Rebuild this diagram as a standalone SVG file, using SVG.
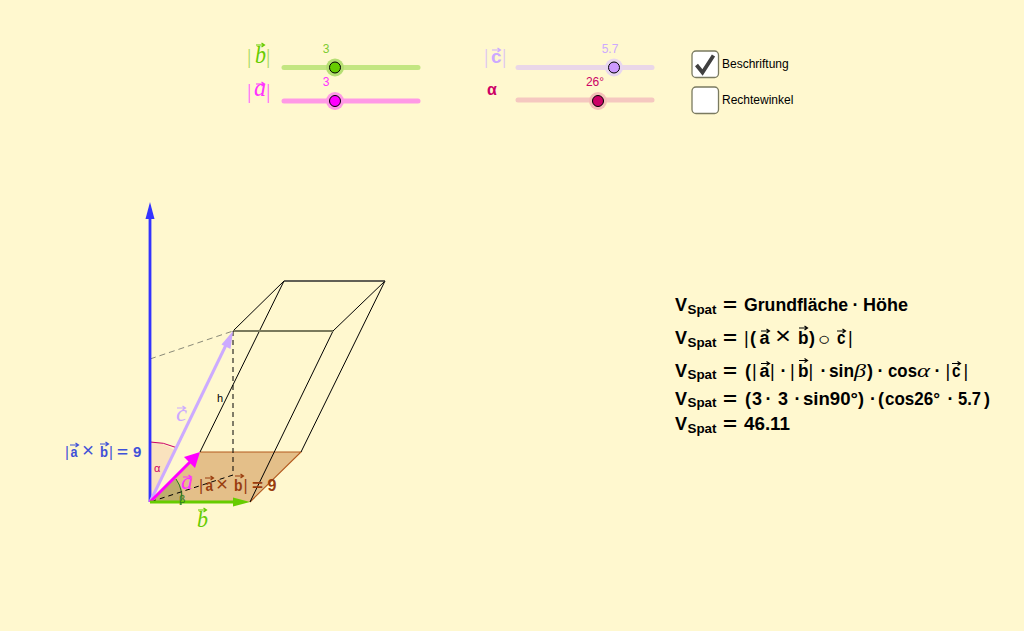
<svg xmlns="http://www.w3.org/2000/svg" xmlns:xlink="http://www.w3.org/1999/xlink" width="1024" height="631" viewBox="0 0 1024 631">
<style>
.s{font-family:"Liberation Sans",Arial,sans-serif}
.m{font-family:"Liberation Sans",Arial,sans-serif;font-weight:bold;font-size:18px;fill:#000}
.sub{font-size:12.5px}
.ser{font-family:"Liberation Serif","Times New Roman",serif;font-style:italic;font-weight:normal}
.bar{font-family:"Liberation Serif",serif;font-size:22px}
.ln{fill:none;stroke:#000;stroke-width:1}
.d{stroke-dasharray:5 4}
.track{stroke-width:5;stroke-linecap:round;fill:none}
.k{stroke:#000;stroke-width:1}
.cb{fill:#fff;stroke:#7a7a60;stroke-width:1.3}
.lbl{font-size:12px;fill:#000}
.val{font-size:12px}
.bl{font-size:15px;font-weight:bold;fill:#3f51d8}
.br{font-size:16px;font-weight:bold;fill:#993d0f}
.t{font-weight:normal}
</style>
<defs>
<path id="ar" d="M0 0H8M5.500 -2L8.500 0L5.500 2" fill="none" stroke="currentColor" stroke-width="1.200"/>
<g id="vs"><text class="m" x="0" y="0">V</text><text class="m sub" x="12.500" y="2.500" textLength="29" lengthAdjust="spacingAndGlyphs">Spat</text><text class="m" x="48" y="0" textLength="14" lengthAdjust="spacingAndGlyphs">=</text></g>
</defs>
<rect width="1024" height="631" fill="#fff8cf"/>

<g id="slider-b">
<path class="track" d="M284 67.500H418" stroke="#c3e681"/>
<circle cx="335" cy="67.500" r="9" fill="#b5de72"/>
<circle cx="335" cy="67.500" r="5.500" fill="#66cc00" class="k"/>
<text class="s val" x="326" y="53" text-anchor="middle" fill="#80cc33">3</text>
<text class="bar" x="247" y="63" fill="#a6d960">|</text>
<text class="ser" x="255" y="63" style="font-size:25px" fill="#66cc00" textLength="11" lengthAdjust="spacingAndGlyphs">b</text>
<use xlink:href="#ar" x="256" y="45" color="#66cc00"/>
<text class="bar" x="266" y="63" fill="#a6d960">|</text>
</g>

<g id="slider-a">
<path class="track" d="M284 101H418" stroke="#ff99e6"/>
<circle cx="335" cy="101" r="9" fill="#ff99e6"/>
<circle cx="335" cy="101" r="5.500" fill="#ff00ff" class="k"/>
<text class="s val" x="326" y="86" text-anchor="middle" fill="#ff33ff">3</text>
<text class="bar" x="247" y="98" fill="#ff66ff">|</text>
<text class="ser" x="254" y="96" style="font-size:25px" fill="#ff33ff" textLength="12" lengthAdjust="spacingAndGlyphs">a</text>
<use xlink:href="#ar" x="256" y="84" color="#ff33ff"/>
<text class="bar" x="266" y="98" fill="#ff66ff">|</text>
</g>

<g id="slider-c">
<path class="track" d="M518 67.500H652" stroke="#ead7e8"/>
<circle cx="614" cy="67.500" r="9" fill="#e8d6ef"/>
<circle cx="614" cy="67.500" r="5.500" fill="#cc99ff" class="k"/>
<text class="s val" x="610" y="53" text-anchor="middle" fill="#ccaaff">5.7</text>
<text class="bar" x="484" y="63" fill="#dcc4f5">|</text>
<text class="s" x="491" y="63" style="font-size:19px;font-weight:bold" fill="#ccaaff">c</text>
<use xlink:href="#ar" x="492" y="50" color="#ccaaff"/>
<text class="bar" x="502" y="63" fill="#dcc4f5">|</text>
</g>

<g id="slider-alpha">
<path class="track" d="M518 100H652" stroke="#f5c8c0"/>
<circle cx="598" cy="101" r="9" fill="#f5c0b8"/>
<circle cx="598" cy="101" r="5.500" fill="#cc0066" class="k"/>
<text class="s val" x="595" y="86" text-anchor="middle" fill="#cc0066">26°</text>
<text class="s" x="487" y="95" style="font-size:16px;font-weight:bold" fill="#cc0066">α</text>
</g>

<g id="check-beschriftung">
<rect class="cb" x="692" y="51" width="26.500" height="26.500" rx="4"/>
<path d="M696.500 65L702.500 72.500L713.500 55.500" fill="none" stroke="#404040" stroke-width="3.800"/>
<text class="s lbl" x="722" y="68">Beschriftung</text>
</g>
<g id="check-rechtewinkel">
<rect class="cb" x="692" y="87" width="26.500" height="26.500" rx="4"/>
<text class="s lbl" x="722" y="104">Rechtewinkel</text>
</g>

<g id="connectors">
<path d="M150 502L200 452H301L250 502Z" fill="#d2995a" fill-opacity=".6"/>
<path d="M150 441V502L176 451A60 60 0 0 0 150 441Z" fill="#f5c8a8" fill-opacity=".45"/>
<path d="M150 502L174.500 477.500A34 34 0 0 1 184 502Z" fill="#7a8a3c" fill-opacity=".35"/>
<path d="M150 442A61 61 0 0 1 176 447.500" fill="none" stroke="#cc0066" stroke-width="1"/>
<path d="M176 479A33 33 0 0 1 181 505" fill="none" stroke="#2e7d20" stroke-width="1"/>
<path d="M200 452H301L250 502" fill="none" stroke="#b35a1f" stroke-width="1.100"/>
<path class="ln" d="M200 452L284 281H385L301 452M250 502L333 331"/>
<path class="ln" d="M233 331L284 281M333 331L385 281"/>
<path d="M284 281H385" fill="none" stroke="#444" stroke-width="1.200"/>
<path d="M233 331H333" fill="none" stroke="#7a7a5c" stroke-width="2"/>
<path d="M150 359L233 331" fill="none" stroke="#8a8a78" stroke-width="1" stroke-dasharray="6 4"/>
<path class="ln d" d="M233 331V475L150 502"/>
<path d="M150 502V214" fill="none" stroke="#3333ff" stroke-width="2.800"/>
<path d="M150 202L154.500 219H145.500Z" fill="#3333ff"/>
<path d="M150 502L226.500 344" fill="none" stroke="#ccaaff" stroke-width="3"/>
<path d="M233 331L230.500 349L221.500 344.500Z" fill="#ccaaff"/>
<path d="M150 502L190 462" fill="none" stroke="#ff00ff" stroke-width="3"/>
<path d="M200 452L195 468L184 457Z" fill="#ff00ff"/>
<path d="M150 502H236" fill="none" stroke="#66cc00" stroke-width="3"/>
<path d="M250 502L233 506.500V497.500Z" fill="#66cc00"/>
</g>

<g id="labels">
<text class="ser" x="176" y="421" style="font-size:24px" fill="#ccaaff" textLength="11" lengthAdjust="spacingAndGlyphs">c</text>
<use xlink:href="#ar" x="177" y="408" color="#ccaaff"/>
<text class="s" x="217" y="402" style="font-size:11px">h</text>
<text class="s" x="154" y="472" style="font-size:11px" fill="#cc0066">α</text>
<text class="s" x="179" y="503" style="font-size:11px" fill="#2e7d20">β</text>
<text class="ser" x="181" y="489" style="font-size:24px" fill="#ff33ff" textLength="12" lengthAdjust="spacingAndGlyphs">a</text>
<use xlink:href="#ar" x="183" y="477" color="#ff33ff"/>
<text class="ser" x="197" y="527" style="font-size:24px" fill="#66cc00" textLength="11" lengthAdjust="spacingAndGlyphs">b</text>
<use xlink:href="#ar" x="198" y="510" color="#66cc00"/>

<g class="s">
<text class="bl t" x="65" y="457">|</text><text class="bl" x="70.500" y="457" textLength="7" lengthAdjust="spacingAndGlyphs">a</text>
<text class="bl t" x="82" y="457" style="font-size:20px" textLength="12" lengthAdjust="spacingAndGlyphs">×</text>
<text class="bl" x="100" y="457" textLength="8" lengthAdjust="spacingAndGlyphs">b</text><text class="bl t" x="109" y="457">|</text>
<text class="bl" x="117" y="457" textLength="11" lengthAdjust="spacingAndGlyphs">=</text><text class="bl" x="133" y="457">9</text>
<use xlink:href="#ar" x="70" y="445" color="#3f51d8"/><use xlink:href="#ar" x="100" y="444" color="#3f51d8"/>

<text class="br t" x="199" y="491">|</text><text class="br" x="205.500" y="491" textLength="7.500" lengthAdjust="spacingAndGlyphs">a</text>
<text class="br t" x="216" y="491" style="font-size:21px" textLength="12" lengthAdjust="spacingAndGlyphs">×</text>
<text class="br" x="234" y="491" textLength="8.500" lengthAdjust="spacingAndGlyphs">b</text><text class="br t" x="243.500" y="491">|</text>
<text class="br" x="252" y="491" textLength="11" lengthAdjust="spacingAndGlyphs">=</text><text class="br" x="267.500" y="491">9</text>
<use xlink:href="#ar" x="205" y="478" color="#993d0f"/><use xlink:href="#ar" x="235" y="476" color="#993d0f"/>
</g>
</g>

<g id="formulas">
<use xlink:href="#vs" x="675" y="311"/>
<text class="m" x="744" y="311" textLength="104" lengthAdjust="spacingAndGlyphs">Grundfläche</text><text class="m" x="852.500" y="311">·</text><text class="m" x="863" y="311" textLength="45" lengthAdjust="spacingAndGlyphs">Höhe</text>

<use xlink:href="#vs" x="675" y="344"/>
<text class="m t" x="744" y="344">|</text><text class="m" x="750" y="344">(</text><text class="m" x="759.500" y="344" textLength="10" lengthAdjust="spacingAndGlyphs">a</text>
<text class="m t" x="775" y="344" style="font-size:24px" textLength="16" lengthAdjust="spacingAndGlyphs">×</text>
<text class="m" x="798" y="344" textLength="10.500" lengthAdjust="spacingAndGlyphs">b</text><text class="m" x="809" y="344">)</text><text class="m t" x="818" y="345" style="font-size:18px" textLength="13" lengthAdjust="spacingAndGlyphs">○</text>
<text class="m" x="837" y="344" textLength="8.500" lengthAdjust="spacingAndGlyphs">c</text><text class="m t" x="848" y="344">|</text>
<use xlink:href="#ar" x="761" y="331" color="#000"/><use xlink:href="#ar" x="799" y="328" color="#000"/><use xlink:href="#ar" x="837" y="331" color="#000"/>

<use xlink:href="#vs" x="675" y="376.500"/>
<text class="m" x="745" y="376.500">(</text><text class="m t" x="752" y="376.500">|</text><text class="m" x="759.500" y="376.500" textLength="10" lengthAdjust="spacingAndGlyphs">a</text><text class="m t" x="770" y="376.500">|</text>
<text class="m" x="780.500" y="376.500">·</text><text class="m t" x="790" y="376.500">|</text><text class="m" x="798" y="376.500" textLength="10.500" lengthAdjust="spacingAndGlyphs">b</text><text class="m t" x="808.500" y="376.500">|</text>
<text class="m" x="820.500" y="376.500">·</text><text class="m" x="829" y="376.500" textLength="25" lengthAdjust="spacingAndGlyphs">sin</text><text class="m ser" x="854" y="376.500" textLength="12" lengthAdjust="spacingAndGlyphs">β</text><text class="m" x="867" y="376.500">)</text>
<text class="m" x="877.500" y="376.500">·</text><text class="m" x="888" y="376.500" textLength="29" lengthAdjust="spacingAndGlyphs">cos</text><text class="m ser" x="917" y="376.500" textLength="13" lengthAdjust="spacingAndGlyphs">α</text>
<text class="m" x="934.500" y="376.500">·</text><text class="m t" x="945.500" y="376.500">|</text><text class="m" x="952" y="376.500" textLength="8.500" lengthAdjust="spacingAndGlyphs">c</text><text class="m t" x="963.500" y="376.500">|</text>
<use xlink:href="#ar" x="761" y="363.500" color="#000"/><use xlink:href="#ar" x="799" y="360.500" color="#000"/><use xlink:href="#ar" x="952" y="363.500" color="#000"/>

<use xlink:href="#vs" x="675" y="404.500"/>
<text class="m" x="745" y="404.500">(</text><text class="m" x="752" y="404.500" textLength="10" lengthAdjust="spacingAndGlyphs">3</text><text class="m" x="765.500" y="404.500">·</text><text class="m" x="778" y="404.500" textLength="10" lengthAdjust="spacingAndGlyphs">3</text><text class="m" x="794.500" y="404.500">·</text>
<text class="m" x="803" y="404.500" textLength="55" lengthAdjust="spacingAndGlyphs">sin90°</text><text class="m" x="858" y="404.500">)</text><text class="m" x="870" y="404.500">·</text>
<text class="m" x="878" y="404.500">(</text><text class="m" x="885" y="404.500" textLength="55" lengthAdjust="spacingAndGlyphs">cos26°</text><text class="m" x="947.500" y="404.500">·</text>
<text class="m" x="958" y="404.500" textLength="23" lengthAdjust="spacingAndGlyphs">5.7</text><text class="m" x="984" y="404.500">)</text>

<use xlink:href="#vs" x="675" y="430"/>
<text class="m" x="744" y="430" textLength="46" lengthAdjust="spacingAndGlyphs">46.11</text>
</g>
</svg>
